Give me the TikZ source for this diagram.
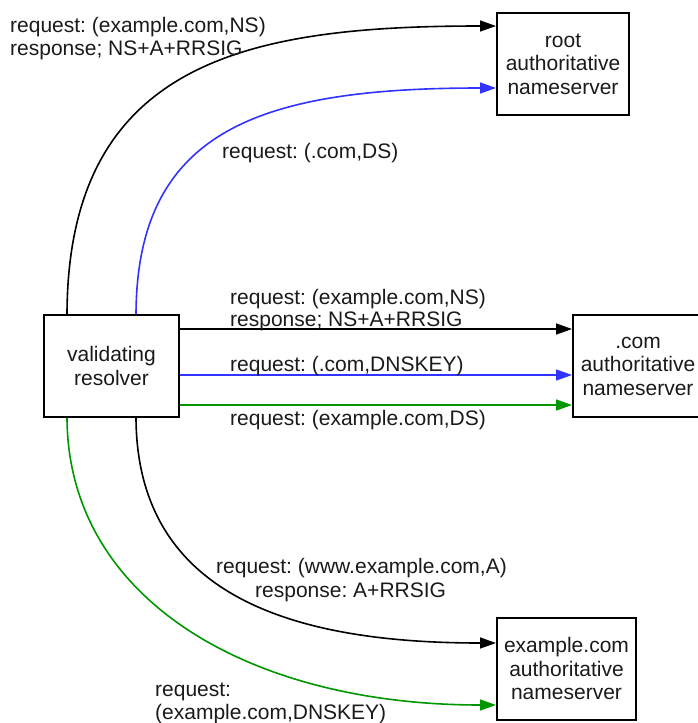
\documentclass[tikz,border=0pt]{standalone}
\usepackage{fontspec}
\setmainfont{Liberation Sans}
\usetikzlibrary{arrows.meta,calc}
\definecolor{cblue}{RGB}{51,51,255}
\definecolor{cgreen}{RGB}{0,150,0}
\definecolor{ctext}{RGB}{26,26,26}
\frenchspacing
\tikzset{
  box/.style={draw=black, line width=2pt, rectangle, inner sep=0pt, align=center,
    font=\fontsize{21}{23.5}\selectfont, text=ctext},
  lbl/.style={inner sep=0pt, anchor=base west, font=\fontsize{21}{24}\selectfont, text=ctext},
  clbl/.style={inner sep=0pt, anchor=base, font=\fontsize{21}{24}\selectfont, text=ctext},
  conn/.style={line width=1.6pt, -{Triangle[length=16pt,width=11pt]}},
}
\begin{document}
\begin{tikzpicture}[x=1pt,y=-1pt]
\useasboundingbox (0,0) rectangle (698,723);
% boxes
\node[box, minimum width=135pt, minimum height=102pt] (res) at (111.5,366) {validating\\resolver};
\node[box, minimum width=132pt, minimum height=102pt] (root) at (563,64) {root\\authoritative\\nameserver};
\node[box, minimum width=130pt, minimum height=102pt] (com) at (638,366) {.com\\authoritative\\nameserver};
\node[box, minimum width=139pt, minimum height=102pt] (ex) at (566.5,668.5) {example.com\\authoritative\\nameserver};
% top curves
\draw[conn, black] ($(res.north west)+(24,0)$) .. controls (68,60) and (250,26) .. (root.west |- 0,26);
\draw[conn, cblue] ($(res.north west)+(93,0)$) .. controls (137,130) and (260,88) .. (root.west |- 0,88);
% middle lines
\draw[conn, black] (res.east |- 0,329) -- (com.west |- 0,329);
\draw[conn, cblue] (res.east |- 0,375) -- (com.west |- 0,375);
\draw[conn, cgreen] (res.east |- 0,405) -- (com.west |- 0,405);
% bottom curves
\draw[conn, black] ($(res.south west)+(93,0)$) .. controls (137,600) and (300,643) .. (ex.west |- 0,643);
\draw[conn, cgreen] ($(res.south west)+(24,0)$) .. controls (68,600) and (250,705) .. (ex.west |- 0,705);
% labels
\node[lbl] (l1a) at (10,32) {request: (example.com,NS)};
\node[lbl] (l1b) at (10,55) {response; NS+A+RRSIG};
\node[lbl] (l2) at (222,158) {request: (.com,DS)};
\node[lbl] (l3a) at (230,304) {request: (example.com,NS)};
\node[lbl] (l3b) at (230,326) {response; NS+A+RRSIG};
\node[lbl] (l4) at (230,371) {request: (.com,DNSKEY)};
\node[lbl] (l5) at (230,425) {request: (example.com,DS)};
\node[clbl] (l6a) at (361.5,573) {request: (www.example.com,A)};
\node[lbl] (l6b) at (255,597) {response: A+RRSIG};
\node[lbl] (l7a) at (155,696) {request:};
\node[lbl] (l7b) at (155,719) {(example.com,DNSKEY)};
\end{tikzpicture}
\end{document}
